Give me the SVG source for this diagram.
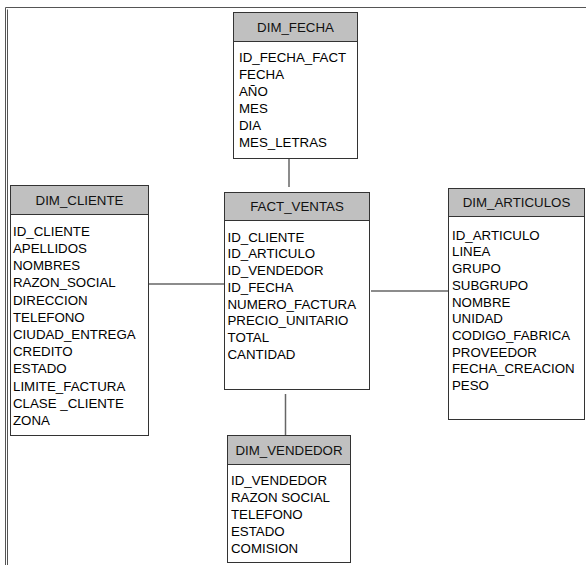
<svg xmlns="http://www.w3.org/2000/svg" width="586" height="565" viewBox="0 0 586 565">
<style>
.box{fill:#fff;stroke:#333;stroke-width:1}
.hdr{fill:#c0c0c0;stroke:#333;stroke-width:1}
.ttl{font-family:"Liberation Sans",Arial,sans-serif;font-size:13.3px;fill:#111;text-anchor:middle}
.row{font-family:"Liberation Sans",Arial,sans-serif;font-size:13.3px;fill:#000}
.con{stroke:#666;stroke-width:1.5;fill:none}
.frame{stroke:#555;stroke-width:1;fill:none}
</style>
<rect width="586" height="565" fill="#fff"/>
<g id="frame">
<path class="frame" d="M5.5,565 V7.5 H586"/>
<path class="frame" d="M7.5,565 V9.5"/>
</g>
<g id="connectors">
<line class="con" x1="289" y1="158.5" x2="289" y2="187"/>
<line class="con" x1="148.5" y1="284" x2="224.5" y2="284"/>
<line class="con" x1="371" y1="291" x2="448.5" y2="291"/>
<line class="con" x1="285.5" y1="394" x2="285.5" y2="435.5"/>
</g>
<g id="dim_fecha">
<rect class="box" x="233.5" y="12.5" width="124" height="146"/>
<rect class="hdr" x="233.5" y="12.5" width="124" height="29"/>
<text class="ttl" x="295.5" y="31.7">DIM_FECHA</text>
<text class="row" x="239" y="61.7">ID_FECHA_FACT</text>
<text class="row" x="239" y="78.7">FECHA</text>
<text class="row" x="239" y="95.7">AÑO</text>
<text class="row" x="239" y="112.7">MES</text>
<text class="row" x="239" y="129.7">DIA</text>
<text class="row" x="239" y="146.7">MES_LETRAS</text>
</g>
<g id="dim_cliente">
<rect class="box" x="10.5" y="185.5" width="138" height="250"/>
<rect class="hdr" x="10.5" y="185.5" width="138" height="29"/>
<text class="ttl" x="79.5" y="204.7">DIM_CLIENTE</text>
<text class="row" x="13" y="235.7">ID_CLIENTE</text>
<text class="row" x="13" y="252.9">APELLIDOS</text>
<text class="row" x="13" y="270.1">NOMBRES</text>
<text class="row" x="13" y="287.3">RAZON_SOCIAL</text>
<text class="row" x="13" y="304.5">DIRECCION</text>
<text class="row" x="13" y="321.7">TELEFONO</text>
<text class="row" x="13" y="338.9">CIUDAD_ENTREGA</text>
<text class="row" x="13" y="356.1">CREDITO</text>
<text class="row" x="13" y="373.3">ESTADO</text>
<text class="row" x="13" y="390.5">LIMITE_FACTURA</text>
<text class="row" x="13" y="407.7">CLASE _CLIENTE</text>
<text class="row" x="13" y="424.9">ZONA</text>
</g>
<g id="fact_ventas">
<rect class="box" x="224.5" y="192.5" width="145" height="197"/>
<rect class="hdr" x="224.5" y="192.5" width="145" height="28"/>
<text class="ttl" x="297" y="211.2">FACT_VENTAS</text>
<text class="row" x="227.5" y="241.7">ID_CLIENTE</text>
<text class="row" x="227.5" y="258.4">ID_ARTICULO</text>
<text class="row" x="227.5" y="275.1">ID_VENDEDOR</text>
<text class="row" x="227.5" y="291.8">ID_FECHA</text>
<text class="row" x="227.5" y="308.5">NUMERO_FACTURA</text>
<text class="row" x="227.5" y="325.2">PRECIO_UNITARIO</text>
<text class="row" x="227.5" y="341.9">TOTAL</text>
<text class="row" x="227.5" y="358.6">CANTIDAD</text>
</g>
<g id="dim_articulos">
<rect class="box" x="448.5" y="188.5" width="136" height="231"/>
<rect class="hdr" x="448.5" y="188.5" width="136" height="28"/>
<text class="ttl" x="516.5" y="207.2">DIM_ARTICULOS</text>
<text class="row" x="452" y="239.7">ID_ARTICULO</text>
<text class="row" x="452" y="256.4">LINEA</text>
<text class="row" x="452" y="273.1">GRUPO</text>
<text class="row" x="452" y="289.8">SUBGRUPO</text>
<text class="row" x="452" y="306.5">NOMBRE</text>
<text class="row" x="452" y="323.2">UNIDAD</text>
<text class="row" x="452" y="339.9">CODIGO_FABRICA</text>
<text class="row" x="452" y="356.6">PROVEEDOR</text>
<text class="row" x="452" y="373.3">FECHA_CREACION</text>
<text class="row" x="452" y="390">PESO</text>
</g>
<g id="dim_vendedor">
<rect class="box" x="227.5" y="435.5" width="123" height="127"/>
<rect class="hdr" x="227.5" y="435.5" width="123" height="29"/>
<text class="ttl" x="289" y="454.7">DIM_VENDEDOR</text>
<text class="row" x="231" y="484.7">ID_VENDEDOR</text>
<text class="row" x="231" y="501.7">RAZON SOCIAL</text>
<text class="row" x="231" y="518.7">TELEFONO</text>
<text class="row" x="231" y="535.7">ESTADO</text>
<text class="row" x="231" y="552.7">COMISION</text>
</g>
</svg>
